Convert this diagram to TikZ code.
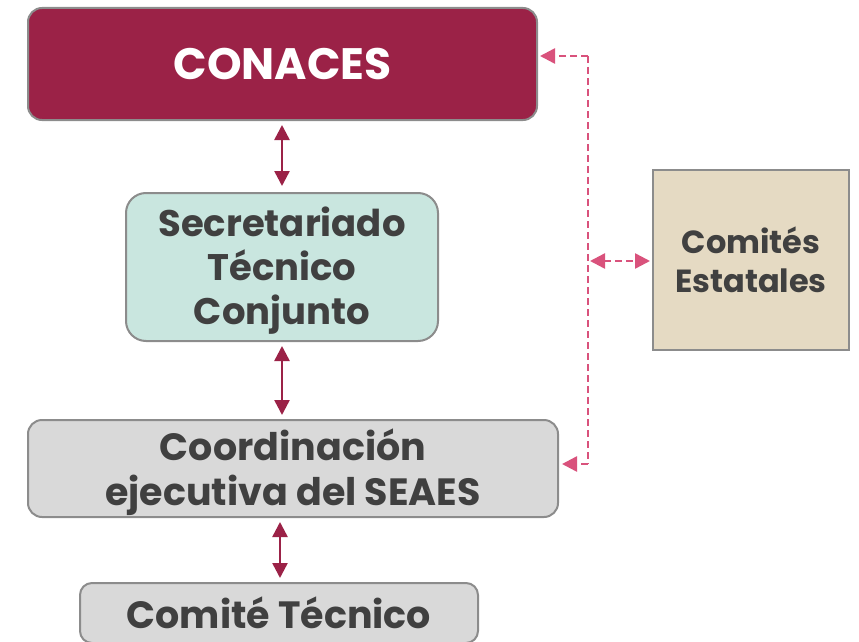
\documentclass[tikz,border=0pt]{standalone}
\usepackage{fontspec}
\setmainfont{Poppins}[UprightFont=* Bold, BoldFont=* Bold]
\usetikzlibrary{arrows.meta}
\definecolor{maroon}{HTML}{9B2247}
\definecolor{mint}{HTML}{C9E6DF}
\definecolor{lgray}{HTML}{D9D9D9}
\definecolor{beige}{HTML}{E5DAC3}
\definecolor{bord}{HTML}{8C8C8C}
\definecolor{txt}{HTML}{404040}
\definecolor{pinkd}{HTML}{D9527C}
\begin{document}
\begin{tikzpicture}[x=1pt,y=-1pt,
  box/.style={draw=bord, line width=2pt, rounded corners=14pt, align=center, text=txt, inner sep=0pt},
  lbl/.style={align=center, text=txt, inner sep=0pt},
  solidarrow/.style={maroon, line width=2.5pt, {Triangle[length=15pt,width=15pt]}-{Triangle[length=15pt,width=15pt]}},
  dasharrow/.style={pinkd, line width=2.5pt, dash pattern=on 7pt off 4pt},
  pinktip/.style={-{Triangle[length=15pt,width=15pt]}}
]
\useasboundingbox (0,0) rectangle (859,642);
\node[box, fill=maroon, text=white, minimum width=509pt, minimum height=112pt, font=\fontsize{44}{50}\selectfont] (conaces) at (282.5,64) {CONACES};
\node[box, fill=mint, minimum width=312pt, minimum height=148pt, rounded corners=20pt] (sec) at (282,267) {};
\node[lbl, font=\fontsize{37}{44}\selectfont] (sectxt) at ([yshift=-4pt]sec.center) {Secretariado\\Técnico\\Conjunto};
\node[box, fill=lgray, minimum width=530pt, minimum height=97pt] (coord) at (293,468.5) {};
\node[lbl, font=\fontsize{38}{45}\selectfont] (coordtxt) at ([yshift=-4pt]coord.center) {Coordinación\\ejecutiva del SEAES};
\node[box, fill=lgray, minimum width=398pt, minimum height=60pt, font=\fontsize{38}{44}\selectfont, rounded corners=12pt] (ct) at (279,613) {Comité Técnico};
\node[box, fill=beige, rounded corners=0pt, minimum width=196pt, minimum height=180pt, font=\fontsize{32}{39}\selectfont] (ce) at (751,260) {Comités\\Estatales};

\draw[solidarrow] ([yshift=-4pt]conaces.south -| sec.north) -- ([yshift=6pt]sec.north);
\draw[solidarrow] ([yshift=-4pt]sec.south) -- ([yshift=4pt]sec.south |- coord.north);
\draw[solidarrow] ([xshift=1pt,yshift=-4pt]coord.south -| ct.north) -- ([xshift=1pt,yshift=4pt]ct.north) ;

\coordinate (c1) at (588,56);
\coordinate (c2) at (588,464);
\coordinate (c3) at (588,261);
\draw[dasharrow] (c1) -- (c2);
\draw[dasharrow, pinktip] (c1) -- ([xshift=2pt]conaces.east |- c1);
\draw[dasharrow, pinktip] (c2) -- ([xshift=3pt]coord.east |- c2);
\draw[dasharrow, {Triangle[length=15pt,width=15pt]}-{Triangle[length=15pt,width=15pt]}] ([xshift=2pt]c3) -- ([xshift=-2pt]ce.west |- c3);
\end{tikzpicture}
\end{document}
